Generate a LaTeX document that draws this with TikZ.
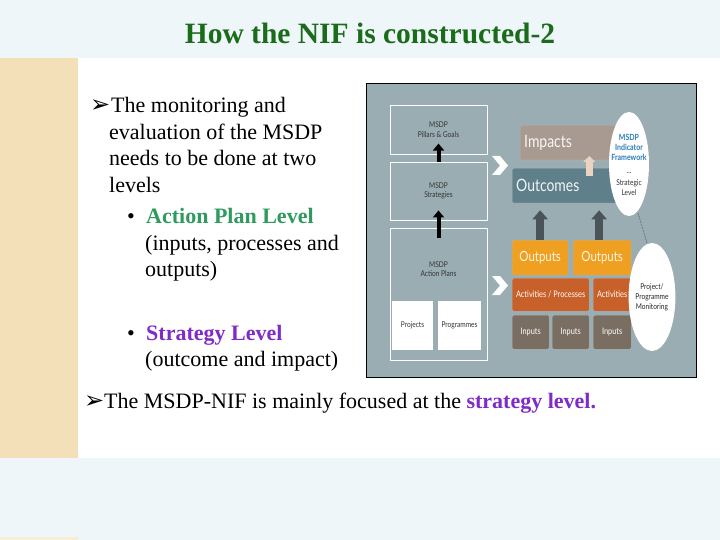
\documentclass[tikz,border=0pt]{standalone}
\usepackage{fontspec}
\setmainfont{Liberation Serif}
\newfontfamily\arrowfont{DejaVu Sans}
\newfontfamily\gill[FakeStretch=0.82]{Lato}
\usetikzlibrary{arrows.meta,shapes.geometric}
\definecolor{pagebg}{HTML}{EEF6F9}
\definecolor{strip}{HTML}{F4E0B8}
\definecolor{titlegreen}{HTML}{1A6B1A}
\definecolor{lvlgreen}{HTML}{2E9A5E}
\definecolor{lvlpurple}{HTML}{7F2BC8}
\definecolor{diagbg}{HTML}{9AADB3}
\definecolor{impactc}{HTML}{A89A90}
\definecolor{outcomec}{HTML}{5F7F8A}
\definecolor{outputc}{HTML}{F0A020}
\definecolor{activc}{HTML}{C8602A}
\definecolor{inputc}{HTML}{7A6E63}
\definecolor{darkarrow}{HTML}{4A5358}
\definecolor{peach}{HTML}{EAD3C0}
\definecolor{fwblue}{HTML}{2A7DB5}
\tikzset{
  txt/.style={anchor=base west, inner sep=0pt, font=\fontsize{22}{26}\selectfont},
  arrowmark/.style={anchor=base west, inner sep=0pt, font=\arrowfont\fontsize{24}{26}\selectfont},
  msdpbox/.style={draw=white, line width=0.9pt, fill=none, inner sep=0pt, align=center,
     font=\gill\fontsize{8}{9.5}\selectfont, text=black!80},
  whitebox/.style={fill=white, draw=none, inner sep=0pt, font=\gill\fontsize{8}{9}\selectfont, text=black!80},
  cbox/.style={rounded corners=1.5pt, draw=white!70!black, line width=0.3pt, inner sep=0pt},
  blackarrow/.style={line width=4pt, -{Triangle[width=11pt,length=7pt]}, black},
  darkup/.style={line width=8pt, -{Triangle[width=15pt,length=9pt]}, darkarrow},
  peachup/.style={line width=7pt, -{Triangle[width=12pt,length=6pt]}, peach},
  bubble/.style={ellipse, fill=white, draw=none, inner sep=0pt, align=center},
  bigtxt/.style={anchor=west, font=\gill\fontsize{17}{19}\selectfont, inner sep=0pt},
  outtxt/.style={font=\gill\fontsize{14}{17}\selectfont, text=white!88!outputc},
  smalltxt/.style={font=\gill\fontsize{9}{11}\selectfont, text=white!92},
}
\begin{document}
\begin{tikzpicture}[x=1pt,y=-1pt]
\useasboundingbox (0,0) rectangle (720,540);
% backgrounds
\fill[pagebg] (0,0) rectangle (720,540);
\fill[white] (78,58) rectangle (720,458);
\fill[strip] (0,58) rectangle (78,458);
\fill[strip!60] (0,537) rectangle (78,540);
% title
\node[font=\bfseries\fontsize{29.5}{33}\selectfont, text=titlegreen] (title) at (370,33) {How the NIF is constructed-2};
% left text
\node[arrowmark] (m1) at (90,113) {➢};
\node[txt] (l1) at (111,113) {The monitoring and};
\node[txt] (l2) at (109,139.5) {evaluation of the MSDP};
\node[txt] (l3) at (109,166) {needs to be done at two};
\node[txt] (l4) at (109,192.5) {levels};
\node[txt] (b1) at (127,223) {•};
\node[txt, text=lvlgreen, font=\bfseries\fontsize{22}{26}\selectfont] (l5) at (146,223) {Action Plan Level};
\node[txt] (l6) at (145,250) {(inputs, processes and};
\node[txt] (l7) at (145,276) {outputs)};
\node[txt] (b2) at (127,340) {•};
\node[txt, text=lvlpurple, font=\bfseries\fontsize{22}{26}\selectfont] (l8) at (146,340) {Strategy Level};
\node[txt] (l9) at (145,366) {(outcome and impact)};
\node[arrowmark] (m2) at (84,408) {➢};
\node[txt] (l10) at (104,408) {The MSDP-NIF is mainly focused at the \textcolor{lvlpurple}{\bfseries strategy level.}};
% diagram frame
\draw[black, line width=0.8pt, fill=diagbg] (366.5,83.5) rectangle (696.5,377.5);
% left column boxes
\node[msdpbox, minimum width=97pt, minimum height=49pt] (pillars) at (438.5,129.5) {MSDP\\Pillars \& Goals};
\node[msdpbox, minimum width=97pt, minimum height=58pt] (strat) at (438.5,191) {MSDP\\Strategies};
\node[msdpbox, minimum width=97pt, minimum height=132pt] (action) at (438.5,294) {};
\node[font=\gill\fontsize{8}{9.5}\selectfont, text=black!80, align=center] (actlabel) at (438.5,269) {MSDP\\Action Plans};
\node[whitebox, minimum width=41pt, minimum height=49pt] (proj) at (412.5,325.5) {Projects};
\node[whitebox, minimum width=43pt, minimum height=49pt] (prog) at (459.5,325.5) {Programmes};
\coordinate (a1end) at ([yshift=18pt]strat.north);
\draw[blackarrow] (strat.north) -- (a1end);
\coordinate (a2start) at ([yshift=-10pt]action.north);
\coordinate (a2end) at ([yshift=10pt]strat.south);
\draw[blackarrow] (a2start) -- (a2end);
% chevrons
\fill[white] (492,156) -- (500,156) -- (508,165.5) -- (500,175) -- (492,175) -- (500,165.5) -- cycle;
\fill[white] (492,276) -- (500,276) -- (508,285.5) -- (500,295) -- (492,295) -- (500,285.5) -- cycle;
% right column boxes
\node[cbox, fill=impactc, minimum width=100pt, minimum height=35pt, anchor=north west] (impacts) at (520,125) {};
\node[bigtxt, text=white!92!impactc] (implabel) at (524,142.5) {Impacts};
\node[cbox, fill=outcomec, minimum width=108pt, minimum height=35pt, anchor=north west] (outcomes) at (512,168) {};
\node[bigtxt, text=white!92!outcomec] (outlabel) at (516,185.5) {Outcomes};
\node[cbox, fill=outputc, minimum width=56pt, minimum height=35pt, anchor=north west, outtxt] (out1) at (512,240) {Outputs};
\node[cbox, fill=outputc, minimum width=58pt, minimum height=35pt, anchor=north west, outtxt] (out2) at (573,240) {Outputs};
\node[cbox, fill=activc, minimum width=77pt, minimum height=33pt, anchor=north west, smalltxt] (act1) at (512,278) {Activities / Processes};
\node[cbox, fill=activc, minimum width=38pt, minimum height=33pt, anchor=north west, smalltxt] (act2) at (593,278) {Activities};
\node[cbox, fill=inputc, minimum width=37pt, minimum height=34pt, anchor=north west, smalltxt] (in1) at (512,315) {Inputs};
\node[cbox, fill=inputc, minimum width=37pt, minimum height=34pt, anchor=north west, smalltxt] (in2) at (552,315) {Inputs};
\node[cbox, fill=inputc, minimum width=38pt, minimum height=34pt, anchor=north west, smalltxt] (in3) at (593,315) {Inputs};
% arrows between levels
\coordinate (o1t) at (out1.north);
\coordinate (o2t) at ([xshift=-3pt]out2.north);
\draw[darkup] (o1t) -- ([yshift=-7pt]o1t |- outcomes.south);
\draw[darkup] (o2t) -- ([yshift=-7pt]o2t |- outcomes.south);
\coordinate (pt) at ([xshift=-31pt]outcomes.north east);
\draw[peachup] ([yshift=-8pt]pt) -- ([yshift=12pt]pt);
% bubbles
\node[bubble, minimum width=40pt, minimum height=104pt] (fw) at (629,164) {};
\node[font=\gill\bfseries\fontsize{8.5}{10}\selectfont, text=fwblue, align=center] (fwtext) at (629,147) {MSDP\\Indicator\\Framework};
\node[font=\gill\fontsize{8}{10}\selectfont, text=black!80, align=center] (fwtext2) at (629,184) {--\\Strategic\\Level};
\node[bubble, minimum width=46pt, minimum height=108pt, font=\gill\fontsize{8}{10}\selectfont, text=black!85] (mon) at (652,297) {Project/\\Programme\\Monitoring};
\coordinate (d1) at ([xshift=9pt,yshift=3pt]fw.south);
\draw[densely dotted, black!75, line width=0.6pt] (d1) -- ([xshift=-5pt]mon.north);
\end{tikzpicture}
\end{document}
